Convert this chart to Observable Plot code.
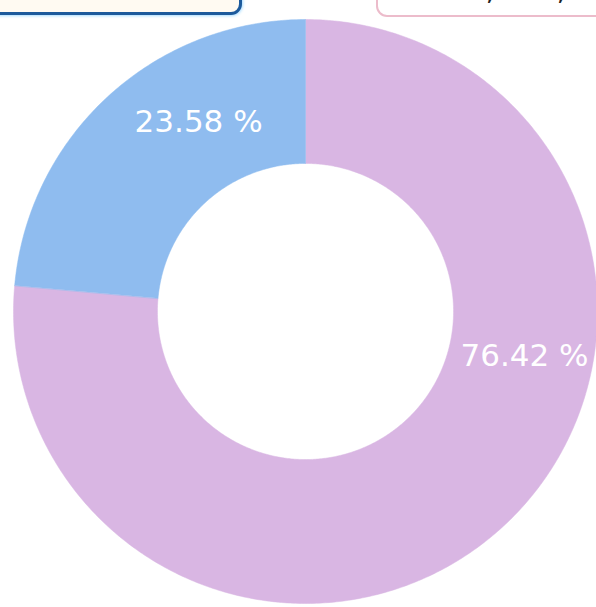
<!DOCTYPE html>
<html>
<head>
<meta charset="utf-8">
<script src="https://cdn.jsdelivr.net/npm/d3@7"></script>
<script src="https://cdn.jsdelivr.net/npm/@observablehq/plot@0.6"></script>
<style>
  html, body { margin: 0; padding: 0; background: #ffffff; overflow: hidden; }
  #wrap { position: relative; width: 596px; height: 607px; }
  .box { position: absolute; box-sizing: border-box; border-radius: 11px; font-family: "DejaVu Sans", sans-serif; font-size: 28px; color: #222; white-space: nowrap; overflow: hidden; }
  #boxL { left: -14px; top: -42px; width: 256px; height: 57px; border: 3px solid #1d5a9c; background: #fffaf2; box-shadow: 0 0 3px 1px #a8dcff; }
  #boxR { left: 376px; top: -42px; width: 240px; height: 59px; border: 2px solid #ecbccb; background: #ffffff; }
  .box span { position: absolute; bottom: 2px; }
</style>
</head>
<body>
<div id="wrap">
  <div id="chart"></div>
  <div class="box" id="boxL"><span style="left: 8px; bottom: 14px;">(23.58 %, 7,860 )</span></div>
  <div class="box" id="boxR"><span style="left: 72px; bottom: 8px;">33,330 ,</span></div>
</div>
<script>
// Data
const categories = ["B", "A"];
const percents = [76.42, 23.58];
const labels = ["76.42 %", "23.58 %"];
const colors = ["#d9b6e3", "#8fbcef"];

// Layout (unit circle coordinates)
const outerR = 1;
const innerR = 0.507;
const labelPos = [[0.75, -0.151], [-0.366, 0.647]];

const pie = d3.pie().sort(null).value(d => d.value)(
  categories.map((c, i) => ({category: c, value: percents[i]}))
);

// Build slice outlines from the pie angles
const outline = [];
pie.forEach(s => {
  const n = Math.max(8, Math.ceil((s.endAngle - s.startAngle) / 0.01));
  for (let k = 0; k <= n; k++) {
    const a = s.startAngle + (s.endAngle - s.startAngle) * k / n;
    outline.push({category: s.data.category, x: outerR * Math.sin(a), y: outerR * Math.cos(a)});
  }
  for (let k = n; k >= 0; k--) {
    const a = s.startAngle + (s.endAngle - s.startAngle) * k / n;
    outline.push({category: s.data.category, x: innerR * Math.sin(a), y: innerR * Math.cos(a)});
  }
});

const labelData = categories.map((c, i) => ({category: c, text: labels[i], x: labelPos[i][0], y: labelPos[i][1]}));

const px = 292;
const chart = Plot.plot({
  width: 596,
  height: 607,
  margin: 0,
  x: {domain: [-305 / px, 291 / px], axis: null},
  y: {domain: [-296 / px, 311 / px], axis: null},
  color: {domain: categories, range: colors},
  style: {background: "transparent", overflow: "visible"},
  marks: [
    Plot.line(outline, {x: "x", y: "y", z: "category", fill: "category", stroke: "category", strokeWidth: 0.5, curve: "linear-closed"}),
    Plot.text(labelData, {x: "x", y: "y", text: "text", fill: "white", fontSize: 31, fontFamily: "DejaVu Sans, sans-serif", fontWeight: "normal", textAnchor: "middle"})
  ]
});
document.getElementById("chart").appendChild(chart);
</script>
</body>
</html>
